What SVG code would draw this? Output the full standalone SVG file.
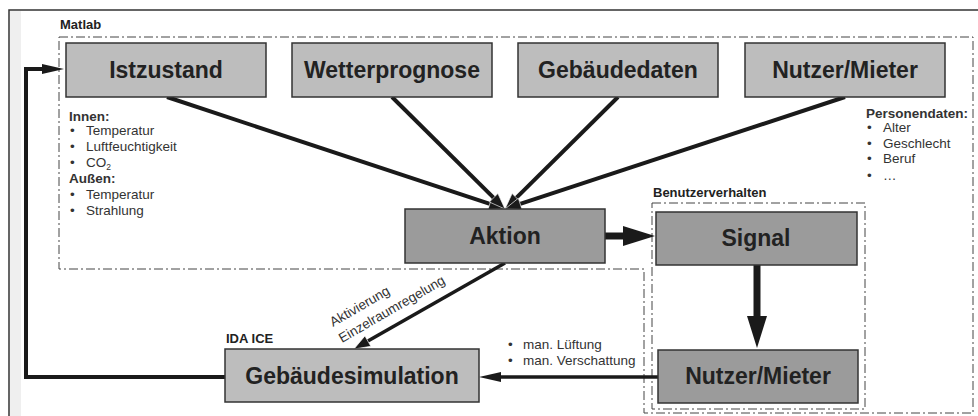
<svg xmlns="http://www.w3.org/2000/svg" width="978" height="416" viewBox="0 0 978 416">
<style>
.box-l{fill:#bdbdbd;stroke:#333;stroke-width:1.5}
.box-d{fill:#9b9b9b;stroke:#333;stroke-width:1.5}
.big{font-family:"Liberation Sans",Arial,sans-serif;font-weight:bold;font-size:23px;fill:#222;text-anchor:middle}
.lbl{font-family:"Liberation Sans",Arial,sans-serif;font-weight:bold;font-size:13px;fill:#222}
.txt{font-family:"Liberation Sans",Arial,sans-serif;font-size:13.5px;fill:#333}
.hd{font-family:"Liberation Sans",Arial,sans-serif;font-weight:bold;font-size:13.5px;fill:#333}
.dd{fill:none;stroke:#444;stroke-width:1;stroke-dasharray:9 3 2 3}
.ln{fill:none;stroke:#1a1a1a;stroke-linejoin:miter}
</style>
<defs>
<marker id="headS" markerUnits="userSpaceOnUse" markerWidth="20" markerHeight="14" refX="4" refY="6" orient="auto" overflow="visible">
<path d="M0,0 L16,6 L0,12 Z" fill="#1a1a1a" stroke="#fff" stroke-width="0.6"/>
</marker>
<marker id="headM" markerUnits="userSpaceOnUse" markerWidth="24" markerHeight="12" refX="4" refY="5" orient="auto" overflow="visible">
<path d="M0,0 L22,5 L0,10 Z" fill="#1a1a1a"/>
</marker>
<marker id="headL" markerUnits="userSpaceOnUse" markerWidth="34" markerHeight="22" refX="4" refY="10" orient="auto" overflow="visible">
<path d="M0,0 L32,10 L0,20 Z" fill="#1a1a1a"/>
</marker>
</defs>
<rect x="0" y="0" width="978" height="416" fill="#fff"/>
<rect x="10" y="11" width="11" height="410" fill="#efefef"/>
<rect x="9" y="10" width="985" height="420" fill="none" stroke="#333" stroke-width="1.5"/>

<g id="matlab">
<path class="dd" d="M59,37 H973 V413 H644 V269 H59 Z"/>
<text class="lbl" x="60" y="29">Matlab</text>
</g>
<g id="benutzerverhalten">
<rect class="dd" x="652" y="203" width="213" height="206"/>
<text class="lbl" x="653" y="197">Benutzerverhalten</text>
</g>

<g id="connectors">
<line class="ln" stroke-width="4" x1="167" y1="97" x2="493.6" y2="205.2" marker-end="url(#headS)"/>
<line class="ln" stroke-width="4" x1="392" y1="97" x2="496.5" y2="200.6" marker-end="url(#headS)"/>
<line class="ln" stroke-width="4" x1="618" y1="97" x2="513.5" y2="200.6" marker-end="url(#headS)"/>
<line class="ln" stroke-width="4" x1="845" y1="97" x2="516.4" y2="205.2" marker-end="url(#headS)"/>
<line class="ln" stroke-width="7" x1="605" y1="236" x2="627" y2="236" marker-end="url(#headL)"/>
<line class="ln" stroke-width="7" x1="757" y1="265" x2="757" y2="320" marker-end="url(#headL)"/>
<line class="ln" stroke-width="3.5" x1="505" y1="263" x2="364.4" y2="343.1" marker-end="url(#headS)"/>
<line class="ln" stroke-width="3.5" x1="658" y1="377" x2="497" y2="377" marker-end="url(#headM)"/>
<polyline class="ln" stroke-width="4" points="225,377 26,377 26,69 46,69" marker-end="url(#headM)"/>
<text class="txt" transform="translate(333,327) rotate(-30)">Aktivierung</text>
<text class="txt" transform="translate(342,343) rotate(-30)">Einzelraumregelung</text>
<text class="txt" x="508" y="349">•</text>
<text class="txt" x="523" y="349">man. Lüftung</text>
<text class="txt" x="508" y="365">•</text>
<text class="txt" x="523" y="365">man. Verschattung</text>
</g>

<g id="istzustand">
<rect class="box-l" x="66" y="43" width="200" height="54"/>
<text class="big" x="166" y="78">Istzustand</text>
<text class="hd" x="69" y="121">Innen:</text>
<text class="txt" x="70" y="135">•</text><text class="txt" x="86" y="135">Temperatur</text>
<text class="txt" x="70" y="151">•</text><text class="txt" x="86" y="151">Luftfeuchtigkeit</text>
<text class="txt" x="70" y="167">•</text><text class="txt" x="86" y="167">CO<tspan font-size="8.5" dy="3">2</tspan></text>
<text class="hd" x="69" y="183">Außen:</text>
<text class="txt" x="70" y="199">•</text><text class="txt" x="86" y="199">Temperatur</text>
<text class="txt" x="70" y="215">•</text><text class="txt" x="86" y="215">Strahlung</text>
</g>
<g id="wetterprognose">
<rect class="box-l" x="292" y="43" width="200" height="54"/>
<text class="big" x="392" y="78">Wetterprognose</text>
</g>
<g id="gebaeudedaten">
<rect class="box-l" x="518" y="43" width="200" height="54"/>
<text class="big" x="618" y="78">Gebäudedaten</text>
</g>
<g id="nutzer-top">
<rect class="box-l" x="745" y="43" width="200" height="54"/>
<text class="big" x="845" y="78">Nutzer/Mieter</text>
<text class="hd" x="866" y="118">Personendaten:</text>
<text class="txt" x="867" y="132">•</text><text class="txt" x="883" y="132">Alter</text>
<text class="txt" x="867" y="148">•</text><text class="txt" x="883" y="148">Geschlecht</text>
<text class="txt" x="867" y="163">•</text><text class="txt" x="883" y="163">Beruf</text>
<text class="txt" x="867" y="180">•</text><text class="txt" x="883" y="180">…</text>
</g>
<g id="aktion">
<rect class="box-d" x="405" y="209" width="200" height="54"/>
<text class="big" x="505" y="244">Aktion</text>
</g>
<g id="signal">
<rect class="box-d" x="656" y="212" width="201" height="53"/>
<text class="big" x="756" y="246">Signal</text>
</g>
<g id="nutzer-bottom">
<rect class="box-d" x="658" y="350" width="200" height="53"/>
<text class="big" x="758" y="384">Nutzer/Mieter</text>
</g>
<g id="gebaeudesimulation">
<rect class="box-l" x="225" y="349" width="254" height="53"/>
<text class="big" x="352" y="384">Gebäudesimulation</text>
<text class="lbl" x="226" y="343">IDA ICE</text>
</g>
</svg>
